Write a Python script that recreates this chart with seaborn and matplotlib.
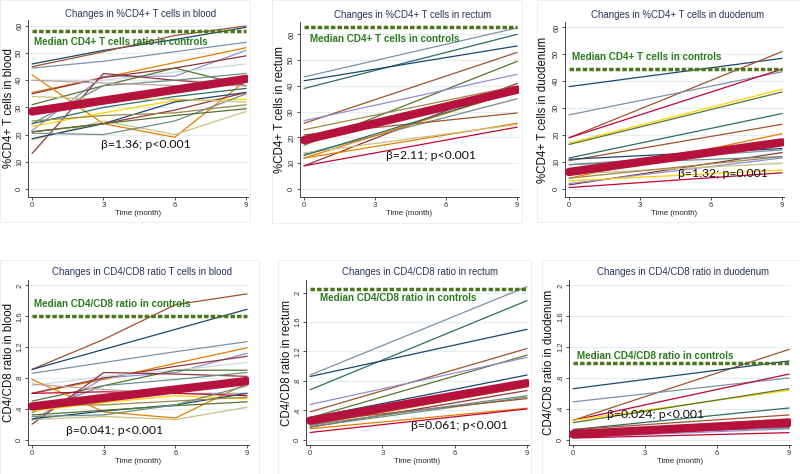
import numpy as np
import pandas as pd
import matplotlib
matplotlib.use("Agg")
import matplotlib.pyplot as plt
from matplotlib.patches import Rectangle
import seaborn as sns

# Stata s2color palette
C = {
    "navy": "#1a476f", "maroon": "#90353b", "forest": "#55752f", "dkorange": "#e37e00",
    "teal": "#6e8e84", "cranberry": "#c10534", "lavender": "#938dd2", "khaki": "#cac27e",
    "sienna": "#a0522d", "emidblue": "#7b92a8", "emerald": "#2d6d66", "brown": "#9c8847",
    "erose": "#bfa19c", "gold": "#ffd200", "bluishgray": "#c9d9e0",
}

# ───────────── data ─────────────
months_4 = [0, 3, 6, 9]
months_2 = [0, 9]

# panel 1: %CD4+ in blood
blood_cd4 = [
    [46, 51, 55, 59.5], [45, 50.5, 56.5, 60], [44.5, 47, 50.5, 54], [35.5, 41, 46.5, 52],
    [21.5, 41.5, 41.5, 51], [35, 41, 44.5, 49], [40, 40, 43, 46], [31, 38, 44.5, 38],
    [42, 24, 19, 40], [13, 42.5, 40, 38], [24, 38, 40, 42.5], [24, 30, 34, 37],
    [40, 39, 38, 38], [23, 28, 32.5, 33], [18, 25, 20, 28.5], [18.5, 24, 32, 35.5],
    [21, 24, 29, 35.5], [20.5, 20, 25, 35], [25, 27, 28, 31], [21, 24, 27, 29.5],
    [34, 33, 33, 32],
]
blood_cd4_col = ["navy", "sienna", "emidblue", "dkorange", "lavender", "maroon", "bluishgray",
                 "forest", "dkorange", "maroon", "teal", "emerald", "erose", "gold", "khaki",
                 "navy", "maroon", "teal", "brown", "forest", "khaki"]
blood_cd4_trend = [28.5, 40.5]

# panel 2: %CD4+ in rectum
rectum_cd4 = [
    [43.5, 62.5], [39, 60], [42, 55.5], [25.5, 53], [17, 49.5], [26.5, 44.5], [9, 41],
    [23, 40], [13.5, 35], [12, 38], [21, 29.5], [12, 25.5], [14, 25], [9, 24], [13, 38],
    [18, 38],
]
rectum_cd4_col = ["emidblue", "emerald", "navy", "sienna", "forest", "lavender", "maroon",
                  "brown", "teal", "dkorange", "sienna", "dkorange", "khaki", "cranberry",
                  "emerald", "erose"]
rectum_cd4_trend = [19, 38.5]

# panel 3: %CD4+ in duodenum
duod_cd4 = [
    [38, 48.5], [19, 51], [27.5, 43.5], [19, 44.5], [17, 37], [16.5, 36], [11.5, 28],
    [10.5, 24], [4, 20.5], [11, 15], [9, 14.5], [1.5, 13.5], [2, 11.5], [5.5, 9.5],
    [4, 12], [0.5, 6], [3, 7], [9, 12],
]
duod_cd4_col = ["navy", "sienna", "emidblue", "cranberry", "gold", "forest", "emerald",
                "sienna", "dkorange", "navy", "emidblue", "maroon", "lavender", "khaki",
                "brown", "cranberry", "gold", "teal"]
duod_cd4_trend = [6.3, 17.3]

# panel 4: CD4/CD8 ratio in blood
blood_ratio = [
    [0.91, 1.3, 1.75, 1.89], [0.91, 1.17, 1.43, 1.69], [0.86, 1.0, 1.14, 1.27],
    [0.6, 0.78, 0.99, 1.19], [0.25, 0.8, 0.87, 1.12], [0.6, 0.8, 0.95, 1.08],
    [0.7, 0.82, 0.9, 1.0], [0.5, 0.7, 0.9, 0.9], [0.78, 0.36, 0.28, 0.73],
    [0.2, 0.87, 0.85, 0.82], [0.35, 0.7, 0.78, 0.87], [0.72, 0.65, 0.6, 0.6],
    [0.6, 0.62, 0.6, 0.57], [0.37, 0.48, 0.57, 0.53], [0.26, 0.3, 0.26, 0.42],
    [0.27, 0.37, 0.45, 0.6], [0.32, 0.38, 0.44, 0.49], [0.3, 0.32, 0.45, 0.7],
    [0.45, 0.45, 0.5, 0.55],
]
blood_ratio_col = ["sienna", "navy", "emidblue", "dkorange", "lavender", "maroon", "bluishgray",
                   "forest", "dkorange", "maroon", "teal", "erose", "cranberry", "gold", "khaki",
                   "navy", "forest", "teal", "brown"]
blood_ratio_trend = [0.43, 0.76]

# panel 5: CD4/CD8 ratio in rectum
rectum_ratio = [
    [0.88, 2.08], [0.68, 1.89], [0.86, 1.5], [0.38, 1.24], [0.3, 1.15], [0.48, 1.12],
    [0.3, 0.88], [0.25, 0.8], [0.2, 0.72], [0.17, 0.67], [0.18, 0.58], [0.25, 0.56],
    [0.15, 0.43], [0.1, 0.42], [0.2, 0.6],
]
rectum_ratio_col = ["emidblue", "emerald", "navy", "sienna", "forest", "lavender", "navy",
                    "khaki", "dkorange", "maroon", "teal", "sienna", "dkorange", "cranberry",
                    "teal"]
rectum_ratio_trend = [0.26, 0.77]

# panel 6: CD4/CD8 ratio in duodenum
duod_ratio = [
    [0.25, 1.17], [0.66, 1.02], [0.49, 0.8], [0.25, 0.85], [0.25, 0.64], [0.22, 0.66],
    [0.13, 0.41], [0.13, 0.32], [0.08, 0.27], [0.12, 0.17], [0.03, 0.14], [0.05, 0.16],
    [0.1, 0.2], [0.02, 0.09], [0.06, 0.24], [0.1, 0.15],
]
duod_ratio_col = ["sienna", "navy", "emidblue", "cranberry", "gold", "forest", "emerald",
                  "sienna", "dkorange", "navy", "lavender", "maroon", "khaki", "cranberry",
                  "brown", "emidblue"]
duod_ratio_trend = [0.07, 0.22]

titles = [
    "Changes in %CD4+ T cells in blood", "Changes in %CD4+ T cells in rectum",
    "Changes in %CD4+ T cells in duodenum", "Changes in CD4/CD8 ratio T cells in blood",
    "Changes in CD4/CD8 ratio in rectum", "Changes in CD4/CD8 ratio in duodenum",
]
ylabels = [
    "%CD4+ T cells in blood", "%CD4+ T cells in rectum", "%CD4+ T cells in duodenum",
    "CD4/CD8 ratio in blood", "CD4/CD8 ratio in rectum", "CD4/CD8 ratio in duodenum",
]
control_medians = [58, 63, 44.5, 1.6, 2.05, 0.99]
control_labels = [
    "Median CD4+ T cells ratio in controls", "Median CD4+ T cells in controls",
    "Median CD4+ T cells in controls", "Median CD4/CD8 ratio in controls",
    "Median CD4/CD8 ratio in controls", "Median CD4/CD8 ratio in controls",
]
beta_labels = ["β=1.36; p<0.001", "β=2.11; p<0.001", "β=1.32; p=0.001",
               "β=0.041; p<0.001", "β=0.061; p<0.001", "β=0.024; p<0.001"]

cd4_ticks = [0, 10, 20, 30, 40, 50, 60]
ratio_ticks = [0, 0.4, 0.8, 1.2, 1.6, 2]
ratio_ticklabels = ["0", ".4", ".8", "1.2", "1.6", "2"]

# ───────────── layout (pixels) ─────────────
W, H = 800, 474
panels = [
    # data, colors, months, trend, axes px (l, r, t, b), ylim, median text pos, beta pos
    (blood_cd4, blood_cd4_col, months_4, blood_cd4_trend, (28, 248, 20, 197), (-3, 62.2), (0.07, 54), (2.9, 16.3)),
    (rectum_cd4, rectum_cd4_col, months_2, rectum_cd4_trend, (300, 519, 22, 197), (-3.1, 64.8), (0.24, 58.3), (3.45, 13.1)),
    (duod_cd4, duod_cd4_col, months_2, duod_cd4_trend, (565, 784, 22, 197), (-3, 62), (0.14, 49), (4.6, 5.9)),
    (blood_ratio, blood_ratio_col, months_4, blood_ratio_trend, (28, 249, 280, 445), (-0.07, 2.07), (0.07, 1.76), (1.4, 0.12)),
    (rectum_ratio, rectum_ratio_col, months_2, rectum_ratio_trend, (306, 529, 280, 445), (-0.07, 2.17), (0.42, 1.93), (4.2, 0.2)),
    (duod_ratio, duod_ratio_col, months_2, duod_ratio_trend, (569, 791, 280, 445), (-0.07, 2.07), (0.18, 1.09), (1.4, 0.32)),
]
ylabel_x = [9, 280, 543, 9, 287, 549]
title_y = [14, 15, 15, 272, 272, 272]
frames = [(0, 250, 0, 222), (272, 522, 0, 223), (537, 800, 0, 222),
          (0, 259, 260, 474), (278, 531, 260, 474), (542, 800, 260, 474)]

sns.set_theme(style="white")
plt.rcParams["font.family"] = ["Liberation Sans", "DejaVu Sans"]

fig = plt.figure(figsize=(W / 100, H / 100), dpi=100)
fig.patch.set_facecolor("white")

for f in frames:
    l, r, t, b = f
    fig.add_artist(Rectangle((l / W, 1 - b / H), (r - l) / W, (b - t) / H,
                             transform=fig.transFigure, fill=False,
                             edgecolor="#ebebeb", lw=0.6))

for i, (vals, cols, months, trend, box, ylim, mpos, bpos) in enumerate(panels):
    l, r, t, b = box
    ax = fig.add_axes([l / W, 1 - b / H, (r - l) / W, (b - t) / H])

    rows = []
    for k, v in enumerate(vals):
        for m, y in zip(months, v):
            rows.append({"id": k, "month": m, "value": y})
    df = pd.DataFrame(rows)
    pal = [C[c] for c in cols]
    sns.lineplot(data=df, x="month", y="value", hue="id", palette=pal,
                 legend=False, linewidth=0.9, ax=ax, estimator=None)

    tdf = pd.DataFrame({"month": months_2, "value": trend})
    sns.lineplot(data=tdf, x="month", y="value", color="#b5123d", linewidth=6.0,
                 solid_capstyle="round", ax=ax, zorder=5)

    ax.hlines(control_medians[i], 0, 9, colors="#4e7520", linewidth=2.5,
              linestyles=(0, (1.3, 0.6)), zorder=6)
    ax.text(mpos[0], mpos[1], control_labels[i], color="#2b7a1f", fontsize=7.1,
            fontweight="bold", va="center", ha="left", zorder=7)
    ax.text(bpos[0], bpos[1], beta_labels[i], color="#111111", fontsize=8.8,
            family=["Lato", "DejaVu Sans"], va="center", ha="left", zorder=7)

    ax.set_xlim(-0.17, 9.08)
    ax.set_ylim(*ylim)
    ax.set_xticks([0, 3, 6, 9])
    if i < 3:
        ax.set_yticks(cd4_ticks)
        ax.set_yticklabels([str(v) for v in cd4_ticks])
    else:
        ax.set_yticks(ratio_ticks)
        ax.set_yticklabels(ratio_ticklabels)
    for lab in ax.get_yticklabels():
        lab.set_rotation(90)
        lab.set_va("center")
    ax.tick_params(axis="both", labelsize=5.5, colors="#333333", length=2.5, width=0.6,
                   pad=1, direction="out", left=True, bottom=True)
    ax.grid(axis="y", color="#e6eef1", linewidth=0.8)
    ax.set_axisbelow(True)
    for s in ["top", "right"]:
        ax.spines[s].set_visible(False)
    for s in ["left", "bottom"]:
        ax.spines[s].set_color("#444444")
        ax.spines[s].set_linewidth(0.7)

    ax.set_xlabel("Time (month)", fontsize=5.6, color="#222222", labelpad=1)
    ax.set_ylabel("")
    ax.set_title("")
    fig.text(((l + r) / 2 + 3) / W, 1 - title_y[i] / H, titles[i], fontsize=6.9,
             color="#2a3460", ha="center", va="center")
    fig.text(ylabel_x[i] / W, 1 - ((t + b) / 2) / H, ylabels[i], rotation=90,
             fontsize=8.3, color="#111111", ha="center", va="center")

fig.savefig("out.png", dpi=100, facecolor="white")
